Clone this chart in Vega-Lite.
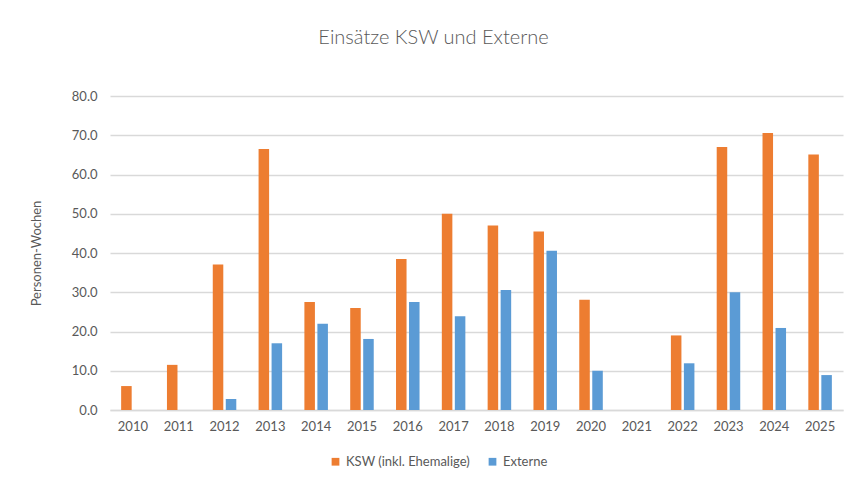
{
  "$schema": "https://vega.github.io/schema/vega-lite/v6.json",
  "autosize": {"type": "none"},
  "width": 733,
  "height": 314,
  "padding": {"left": 110, "top": 96, "right": 7, "bottom": 69},
  "background": "white",
  "title": {
    "text": "Einsätze KSW und Externe",
    "font": "Lato",
    "fontSize": 20,
    "fontWeight": 300,
    "color": "#595959",
    "anchor": "middle",
    "dx": -43,
    "offset": 42
  },
  "config": {
    "view": {"stroke": null},
    "font": "Lato"
  },
  "data": {
    "values": [
      {"Jahr": "2010", "Serie": "KSW (inkl. Ehemalige)", "Wert": 6.1},
      {"Jahr": "2011", "Serie": "KSW (inkl. Ehemalige)", "Wert": 11.5},
      {"Jahr": "2012", "Serie": "KSW (inkl. Ehemalige)", "Wert": 37.1},
      {"Jahr": "2012", "Serie": "Externe", "Wert": 2.8},
      {"Jahr": "2013", "Serie": "KSW (inkl. Ehemalige)", "Wert": 66.5},
      {"Jahr": "2013", "Serie": "Externe", "Wert": 17.0},
      {"Jahr": "2014", "Serie": "KSW (inkl. Ehemalige)", "Wert": 27.5},
      {"Jahr": "2014", "Serie": "Externe", "Wert": 22.0},
      {"Jahr": "2015", "Serie": "KSW (inkl. Ehemalige)", "Wert": 26.0},
      {"Jahr": "2015", "Serie": "Externe", "Wert": 18.1},
      {"Jahr": "2016", "Serie": "KSW (inkl. Ehemalige)", "Wert": 38.5},
      {"Jahr": "2016", "Serie": "Externe", "Wert": 27.5},
      {"Jahr": "2017", "Serie": "KSW (inkl. Ehemalige)", "Wert": 50.0},
      {"Jahr": "2017", "Serie": "Externe", "Wert": 23.9},
      {"Jahr": "2018", "Serie": "KSW (inkl. Ehemalige)", "Wert": 47.0},
      {"Jahr": "2018", "Serie": "Externe", "Wert": 30.6},
      {"Jahr": "2019", "Serie": "KSW (inkl. Ehemalige)", "Wert": 45.5},
      {"Jahr": "2019", "Serie": "Externe", "Wert": 40.6},
      {"Jahr": "2020", "Serie": "KSW (inkl. Ehemalige)", "Wert": 28.1},
      {"Jahr": "2020", "Serie": "Externe", "Wert": 10.0},
      {"Jahr": "2021", "Serie": "KSW (inkl. Ehemalige)", "Wert": 0},
      {"Jahr": "2021", "Serie": "Externe", "Wert": 0},
      {"Jahr": "2022", "Serie": "KSW (inkl. Ehemalige)", "Wert": 19.0},
      {"Jahr": "2022", "Serie": "Externe", "Wert": 11.9},
      {"Jahr": "2023", "Serie": "KSW (inkl. Ehemalige)", "Wert": 67.0},
      {"Jahr": "2023", "Serie": "Externe", "Wert": 30.0},
      {"Jahr": "2024", "Serie": "KSW (inkl. Ehemalige)", "Wert": 70.6},
      {"Jahr": "2024", "Serie": "Externe", "Wert": 20.9},
      {"Jahr": "2025", "Serie": "KSW (inkl. Ehemalige)", "Wert": 65.1},
      {"Jahr": "2025", "Serie": "Externe", "Wert": 8.9}
    ]
  },
  "mark": {"type": "bar"},
  "encoding": {
    "x": {
      "field": "Jahr",
      "type": "nominal",
      "scale": {"paddingInner": 0, "paddingOuter": 0},
      "axis": {
        "title": null,
        "labelAngle": 0,
        "labelFontSize": 13,
        "labelColor": "#595959",
        "labelPadding": 10,
        "ticks": false,
        "domainColor": "#d9d9d9",
        "domainWidth": 1.3
      }
    },
    "xOffset": {
      "field": "Serie",
      "type": "nominal",
      "sort": ["KSW (inkl. Ehemalige)", "Externe"],
      "scale": {"paddingInner": 0.19, "paddingOuter": 0.857}
    },
    "y": {
      "field": "Wert",
      "type": "quantitative",
      "scale": {"domain": [0, 80], "nice": false},
      "axis": {
        "title": "Personen-Wochen",
        "titleFont": "Lato",
        "titleFontSize": 13,
        "titleFontWeight": "normal",
        "titleColor": "#595959",
        "titlePadding": 28,
        "values": [0, 10, 20, 30, 40, 50, 60, 70, 80],
        "format": ".1f",
        "labelFontSize": 13,
        "labelColor": "#595959",
        "labelPadding": 13,
        "ticks": false,
        "domain": false,
        "gridColor": "#d9d9d9",
        "gridWidth": 1.3
      }
    },
    "color": {
      "field": "Serie",
      "type": "nominal",
      "sort": ["KSW (inkl. Ehemalige)", "Externe"],
      "scale": {
        "domain": ["KSW (inkl. Ehemalige)", "Externe"],
        "range": ["#ED7D31", "#5B9BD5"]
      },
      "legend": {
        "title": null,
        "orient": "none",
        "direction": "horizontal",
        "legendX": 219,
        "legendY": 359,
        "symbolType": "square",
        "symbolSize": 60,
        "symbolStrokeWidth": 0,
        "labelFontSize": 13,
        "labelColor": "#595959",
        "columnPadding": 16,
        "labelOffset": 4
      }
    }
  }
}
